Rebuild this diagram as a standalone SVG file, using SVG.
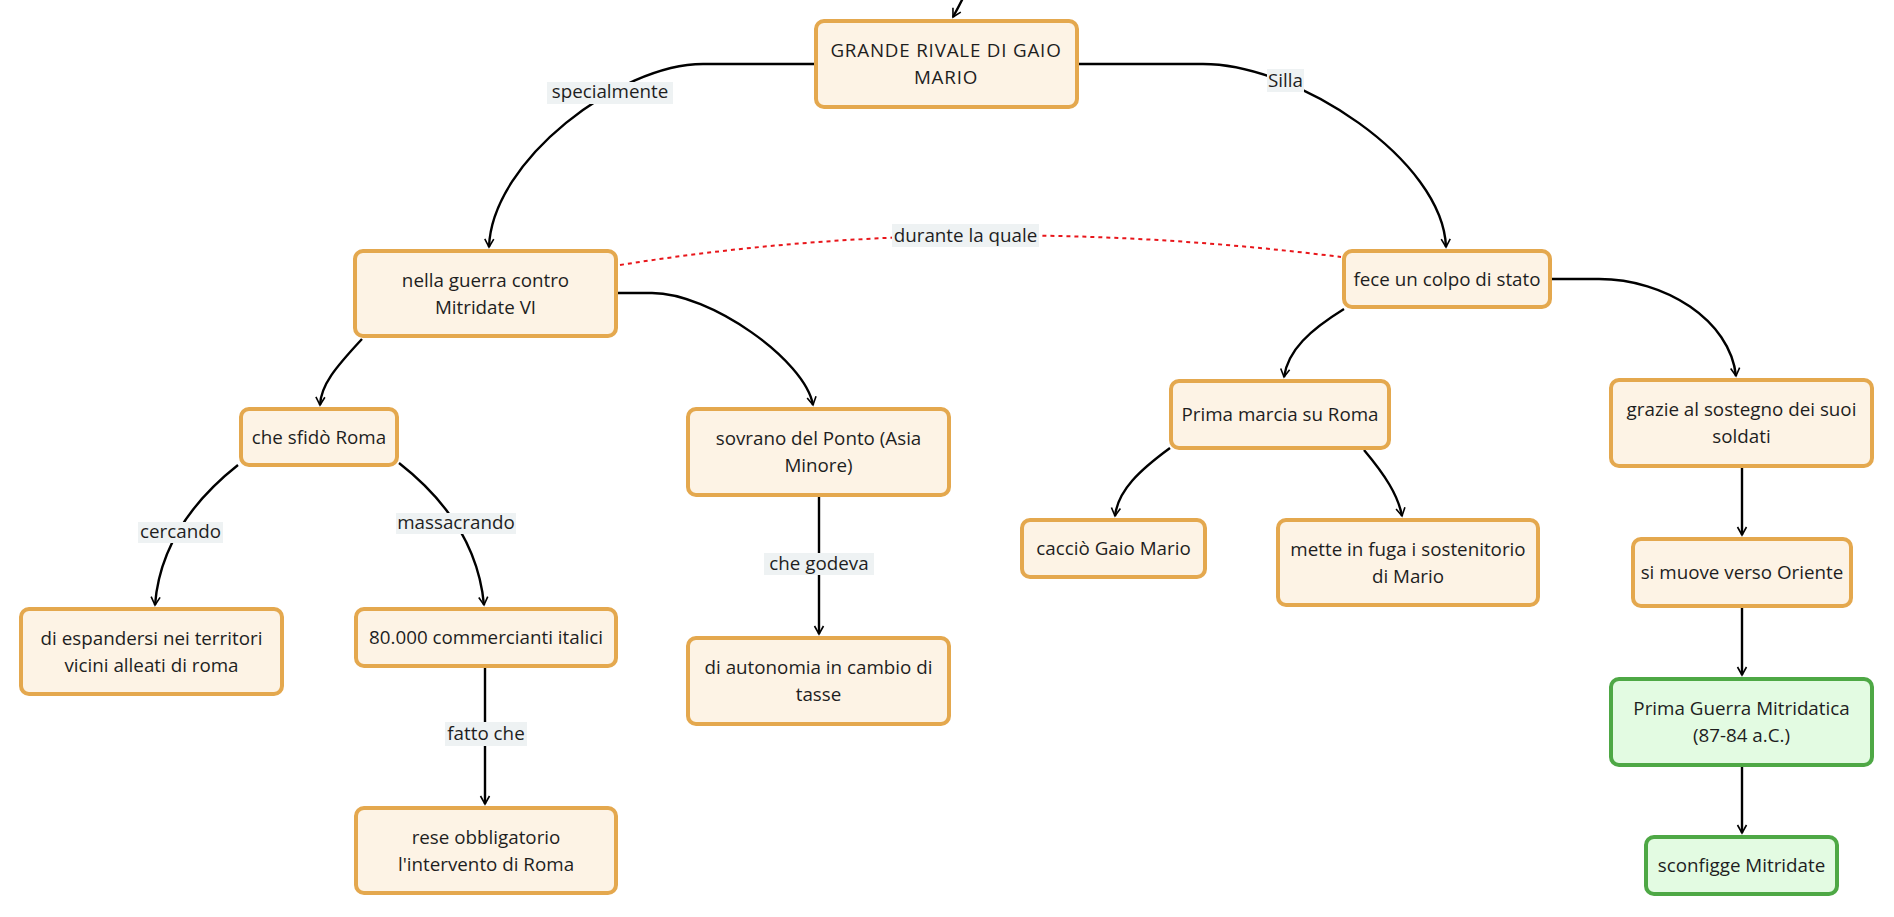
<svg xmlns="http://www.w3.org/2000/svg" width="1894" height="917" viewBox="0 0 1894 917">
<style>
.n rect{fill:#fdf3e5;stroke:#e4a84e;stroke-width:4}
.g rect{fill:#e3fbe2;stroke:#4ea845;stroke-width:4}
text{font-family:"Open Sans","Liberation Sans",sans-serif;font-size:18.8px;fill:#1e1e1e;text-anchor:middle}
.up{letter-spacing:0.8px}
.c path{fill:none;stroke:#000;stroke-width:2.4}
.c path.d{stroke:#e8161b;stroke-width:2;stroke-dasharray:4 4}
.lb{fill:#eef2f3}
</style>
<defs>
<marker id="a" viewBox="0 0 12 12" refX="10" refY="6" markerWidth="12" markerHeight="12" markerUnits="userSpaceOnUse" orient="auto">
<path d="M2,1.5 L10,6 L2,10.5" fill="none" stroke="#000" stroke-width="1.6"/>
</marker>
</defs>
<rect width="1894" height="917" fill="#fff"/>
<g id="connectors" class="c">
<path d="M963 -2 Q958 8 953 17" marker-end="url(#a)"/>
<path d="M815 64 L703 64 C620 64 492 160 489 247" marker-end="url(#a)"/>
<path d="M1077 64 L1203 64 C1297 64 1443 160 1446 247" marker-end="url(#a)"/>
<path class="d" d="M620 265 Q965 210 1341 257"/>
<path d="M362 339 C335 368 321 385 320 405" marker-end="url(#a)"/>
<path d="M618 293 L652 293 C710 293 805 360 813 405" marker-end="url(#a)"/>
<path d="M238 465 C200 495 160 540 155 605" marker-end="url(#a)"/>
<path d="M399 463 C440 495 478 540 484 605" marker-end="url(#a)"/>
<path d="M485 668 L485 804" marker-end="url(#a)"/>
<path d="M819 497 L819 634" marker-end="url(#a)"/>
<path d="M1344 309 C1310 330 1288 350 1284 377" marker-end="url(#a)"/>
<path d="M1552 279 L1599 279 C1665 279 1730 320 1736 376" marker-end="url(#a)"/>
<path d="M1170 448 C1140 470 1118 490 1115 516" marker-end="url(#a)"/>
<path d="M1364 450 C1385 475 1398 495 1402 516" marker-end="url(#a)"/>
<path d="M1742 468 L1742 535" marker-end="url(#a)"/>
<path d="M1742 608 L1742 675" marker-end="url(#a)"/>
<path d="M1742 767 L1742 833" marker-end="url(#a)"/>
<rect class="lb" x="547" y="82" width="126" height="22"/><text x="610" y="98">specialmente</text>
<rect class="lb" x="1267" y="69" width="37" height="23"/><text x="1285.5" y="86.5">Silla</text>
<rect class="lb" x="892" y="224" width="147" height="23"/><text x="965.5" y="241.5">durante la quale</text>
<rect class="lb" x="138" y="522" width="85" height="21"/><text x="180.5" y="538">cercando</text>
<rect class="lb" x="396" y="513" width="120" height="21"/><text x="456" y="529">massacrando</text>
<rect class="lb" x="764" y="553" width="110" height="22"/><text x="819" y="569.5">che godeva</text>
<rect class="lb" x="445" y="722" width="82" height="24"/><text x="486" y="740">fatto che</text>
</g>
<g id="n1" class="n"><rect x="816" y="21" width="261" height="86" rx="8"/><text class="up" x="946" y="57">GRANDE RIVALE DI GAIO</text><text class="up" x="946" y="84">MARIO</text></g>
<g id="n2" class="n"><rect x="355" y="251" width="261" height="85" rx="8"/><text x="485.5" y="286.5">nella guerra contro</text><text x="485.5" y="313.5">Mitridate VI</text></g>
<g id="n3" class="n"><rect x="1344" y="251" width="206" height="56" rx="8"/><text x="1447" y="285.5">fece un colpo di stato</text></g>
<g id="n4" class="n"><rect x="241" y="409" width="156" height="56" rx="8"/><text x="319" y="443.5">che sfidò Roma</text></g>
<g id="n5" class="n"><rect x="688" y="409" width="261" height="86" rx="8"/><text x="818.5" y="445">sovrano del Ponto (Asia</text><text x="818.5" y="472">Minore)</text></g>
<g id="n6" class="n"><rect x="1171" y="381" width="218" height="67" rx="8"/><text x="1280" y="421">Prima marcia su Roma</text></g>
<g id="n7" class="n"><rect x="1611" y="380" width="261" height="86" rx="8"/><text x="1741.5" y="416">grazie al sostegno dei suoi</text><text x="1741.5" y="443">soldati</text></g>
<g id="n8" class="n"><rect x="1022" y="520" width="183" height="57" rx="8"/><text x="1113.5" y="555">cacciò Gaio Mario</text></g>
<g id="n9" class="n"><rect x="1278" y="520" width="260" height="85" rx="8"/><text x="1408" y="555.5">mette in fuga i sostenitorio</text><text x="1408" y="582.5">di Mario</text></g>
<g id="n10" class="n"><rect x="1633" y="539" width="218" height="67" rx="8"/><text x="1742" y="579">si muove verso Oriente</text></g>
<g id="n11" class="n"><rect x="21" y="609" width="261" height="85" rx="8"/><text x="151.5" y="644.5">di espandersi nei territori</text><text x="151.5" y="671.5">vicini alleati di roma</text></g>
<g id="n12" class="n"><rect x="356" y="609" width="260" height="57" rx="8"/><text x="486" y="644">80.000 commercianti italici</text></g>
<g id="n13" class="n"><rect x="688" y="638" width="261" height="86" rx="8"/><text x="818.5" y="674">di autonomia in cambio di</text><text x="818.5" y="701">tasse</text></g>
<g id="n14" class="g"><rect x="1611" y="679" width="261" height="86" rx="8"/><text x="1741.5" y="715">Prima Guerra Mitridatica</text><text x="1741.5" y="742">(87-84 a.C.)</text></g>
<g id="n15" class="n"><rect x="356" y="808" width="260" height="85" rx="8"/><text x="486" y="843.5">rese obbligatorio</text><text x="486" y="870.5">l'intervento di Roma</text></g>
<g id="n16" class="g"><rect x="1646" y="837" width="191" height="57" rx="8"/><text x="1741.5" y="872">sconfigge Mitridate</text></g>
</svg>
